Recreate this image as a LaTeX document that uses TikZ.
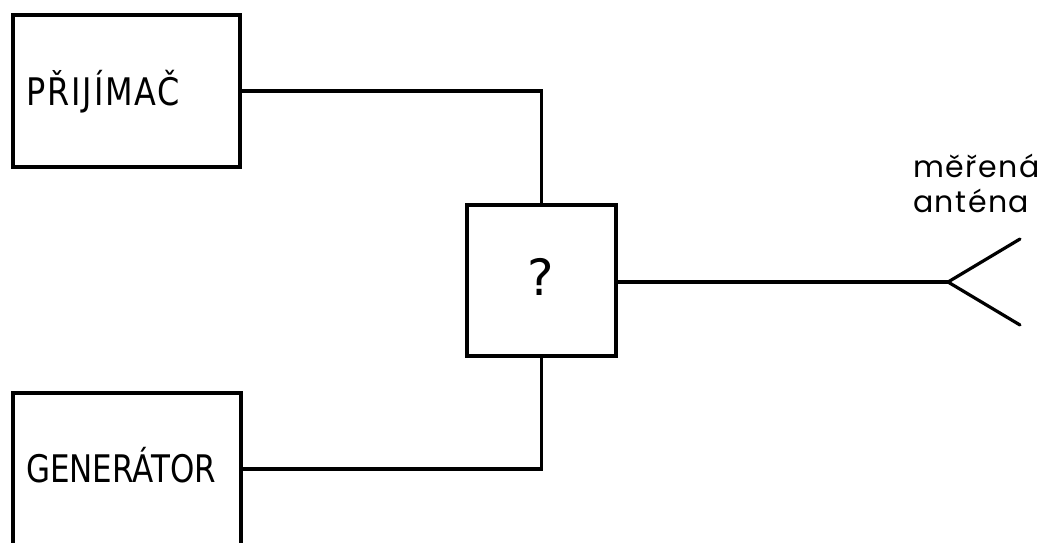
\documentclass[tikz,border=0pt]{standalone}
\usepackage{fontspec}
\setmainfont{DejaVu Sans}
\newfontfamily\boxfont[FakeStretch=0.84, LetterSpace=5]{DejaVu Sans}
\newfontfamily\narrowfont[FakeStretch=0.815]{DejaVu Sans}
\newfontfamily\notefont[LetterSpace=5]{Poppins}
\begin{document}
\begin{tikzpicture}[x=1pt, y=-1pt,
  wire/.style={line width=3.2pt, line cap=round, line join=miter},
  block/.style={draw, line width=3.6pt, rectangle, inner sep=0pt},
  caps/.style={inner sep=0pt, font=\boxfont\fontsize{38}{40}\selectfont},
  narrowcaps/.style={inner sep=0pt, font=\narrowfont\fontsize{38}{40}\selectfont},
  qlabel/.style={inner sep=0pt, font=\fontsize{50}{52}\selectfont},
  note/.style={inner sep=0pt, align=left, font=\notefont\fontsize{30}{35}\selectfont}]
  \useasboundingbox (0,0) rectangle (1046,542);
  \clip (0,0) rectangle (1046,542);

  % blocks
  \node[block, minimum width=227pt, minimum height=152pt] (rx)  at (126.5,91) {};
  \node[block, minimum width=228pt, minimum height=152pt] (gen) at (127,469) {};
  \node[block, minimum width=149pt, minimum height=151pt] (mid) at (541.5,280.5) {};

  % labels
  \node[caps, anchor=base west] (rxt)  at (26,105) {PŘIJÍMAČ};
  \node[narrowcaps, anchor=base west] (gent) at (26,482) {GENERÁTOR};
  \node[qlabel, anchor=base]    (midt) at (541,295) {?};

  % antenna
  \coordinate (feed) at (948,282);
  \coordinate (armup) at (1020,239);
  \coordinate (armdn) at (1020,325);
  \node[note, anchor=base west] (antt) at (913,212) {měřená\\anténa};

  % connections
  \draw[wire] (rx.east) -- (rx.east -| mid.north) -- (mid.north);
  \draw[wire] (gen.east) -- (gen.east -| mid.south) -- (mid.south);
  \draw[wire] (mid.east |- feed) -- (feed);
  \draw[wire] (armup) -- (feed) -- (armdn);
\end{tikzpicture}
\end{document}
